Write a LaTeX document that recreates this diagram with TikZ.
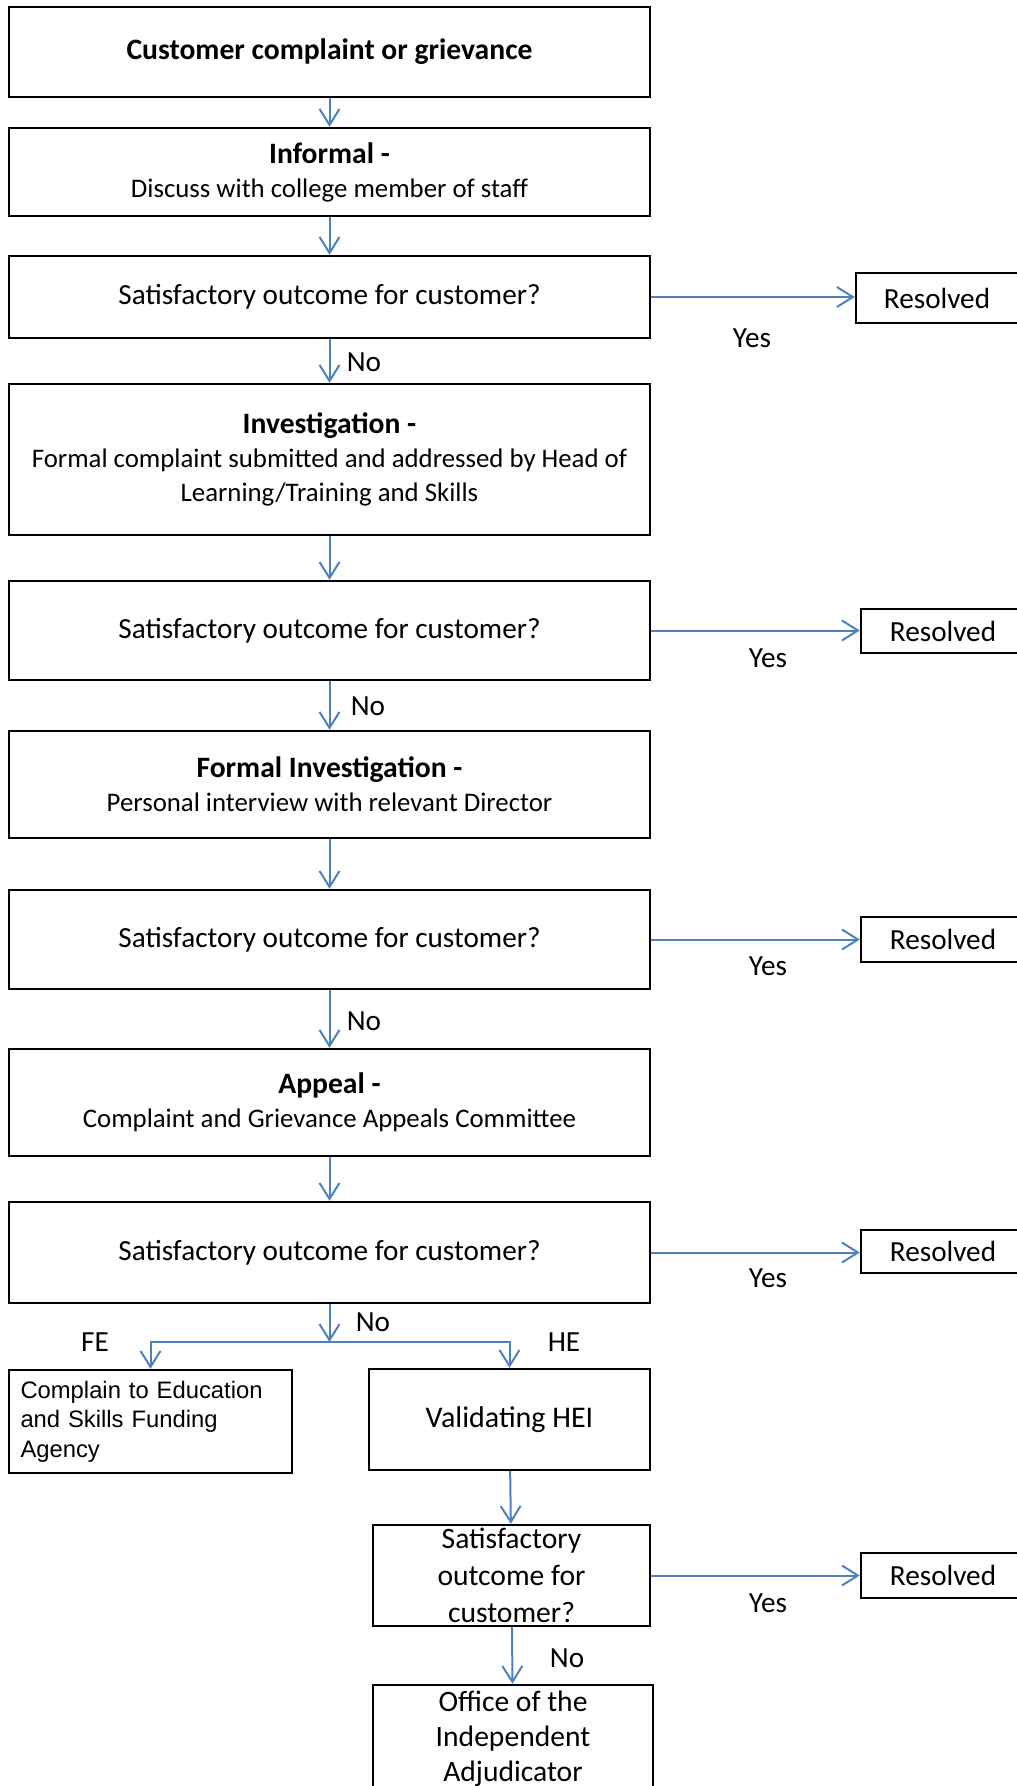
\documentclass[tikz,border=0pt]{standalone}
\usepackage{fontspec}
\setmainfont{Carlito}
\newfontfamily\arialfont{Liberation Sans}
\usetikzlibrary{arrows.meta}
\definecolor{flowblue}{RGB}{79,129,189}
\newcommand{\stagehead}[1]{{\fontsize{14.8}{17}\selectfont\bfseries #1}}
\newcommand{\stagetext}[1]{{\fontsize{13.4}{17}\selectfont #1}}

\begin{document}
\begin{tikzpicture}[x=0.5pt,y=-0.5pt,
    font=\fontsize{14.6}{17}\selectfont,
    box/.style={draw, line width=1.2pt, align=center, inner sep=0pt},
    mainbox/.style={box, minimum width=320.5pt},
    flow/.style={draw=flowblue, line width=1pt, -{Straight Barb[length=8pt,width=10pt]}}]
        \useasboundingbox (0,0) rectangle (1016,1786);
        % main column
        \node[mainbox, minimum height=45pt] at (329.5,52) (start) {\stagehead{Customer complaint or grievance}};
        \node[mainbox, minimum height=44pt] at (329.5,172) (informal) {\stagehead{Informal -}\\\stagetext{Discuss with college member of staff}};
        \node[mainbox, minimum height=41pt] at (329.5,297) (check1) {Satisfactory outcome for customer?};
        \node[mainbox, minimum height=75.5pt] at (329.5,459.5) (invest) {\stagehead{Investigation -}\\\stagetext{Formal complaint submitted and addressed by Head of}\\\stagetext{Learning/Training and Skills}};
        \node[mainbox, minimum height=49.5pt] at (329.5,630.5) (check2) {Satisfactory outcome for customer?};
        \node[mainbox, minimum height=53.5pt] at (329.5,784.5) (formal) {\stagehead{Formal Investigation -}\\\stagetext{Personal interview with relevant Director}};
        \node[mainbox, minimum height=49.5pt] at (329.5,939.5) (check3) {Satisfactory outcome for customer?};
        \node[mainbox, minimum height=53.5pt] at (329.5,1102.5) (appeal) {\stagehead{Appeal -}\\\stagetext{Complaint and Grievance Appeals Committee}};
        \node[mainbox, minimum height=50.5pt] at (329.5,1252.5) (check4) {Satisfactory outcome for customer?};
        % FE / HE branch
        \node[box, minimum width=141.5pt, minimum height=51.5pt, inner xsep=5.5pt, text width=130pt, align=left,
              font=\arialfont\fontsize{11.9}{14.8}\selectfont] at (150.5,1421.5) (fe) {Complain to Education\\and Skills Funding\\Agency};
        \node[box, minimum width=140.5pt, minimum height=50.5pt, font=\fontsize{15}{17}\selectfont] at (509.5,1419.5) (hei) {Validating HEI};
        \node[box, minimum width=138.5pt, minimum height=50.5pt, font=\fontsize{14.8}{18.5}\selectfont] at (511.5,1575.5) (check5) {Satisfactory\\outcome for\\customer?};
        \node[box, minimum width=140pt, minimum height=54pt, font=\fontsize{14.8}{17.5}\selectfont] at (513,1739) (adjud) {Office of the\\Independent\\Adjudicator};
        % resolved boxes
        \node[box, minimum width=81pt, minimum height=25pt] at (937,298) (done1) {Resolved};
        \node[box, minimum width=82pt, minimum height=22pt] at (943,631) (done2) {Resolved};
        \node[box, minimum width=82pt, minimum height=22.5pt] at (943,939.5) (done3) {Resolved};
        \node[box, minimum width=82pt, minimum height=21.5pt] at (943,1251.5) (done4) {Resolved};
        \node[box, minimum width=82pt, minimum height=22.5pt] at (943,1575.5) (done5) {Resolved};
        % labels
        \node at (752,338) (yes1) {Yes};
        \node at (768,658) (yes2) {Yes};
        \node at (768,966) (yes3) {Yes};
        \node at (768,1278) (yes4) {Yes};
        \node at (768,1603) (yes5) {Yes};
        \node at (364,362) (no1) {No};
        \node at (368,706) (no2) {No};
        \node at (364,1021) (no3) {No};
        \node at (373,1322) (no4) {No};
        \node at (567,1658) (no5) {No};
        \node at (95,1342) (felbl) {FE};
        \node at (564,1342) (helbl) {HE};
        \coordinate (split) at (329.5,1342);
        % connectors
        \draw[flow] (start) -- (informal);
        \draw[flow] (informal) -- (check1);
        \draw[flow] (check1) -- (invest);
        \draw[flow] (invest) -- (check2);
        \draw[flow] (check2) -- (formal);
        \draw[flow] (formal) -- (check3);
        \draw[flow] (check3) -- (appeal);
        \draw[flow] (appeal) -- (check4);
        \draw[flow] (check4) -- (split);
        \draw[flow] (split) -| (fe);
        \draw[flow] (split) -| (hei);
        \draw[flow] (hei) -- (check5);
        \draw[flow] (check5) -- (adjud);
        \draw[flow] (check1.east) -- (check1.east -| done1.west);
        \draw[flow] (check2.east) -- (check2.east -| done2.west);
        \draw[flow] (check3.east) -- (check3.east -| done3.west);
        \draw[flow] (check4.east) -- (check4.east -| done4.west);
        \draw[flow] (check5.east) -- (check5.east -| done5.west);
\end{tikzpicture}
\end{document}
